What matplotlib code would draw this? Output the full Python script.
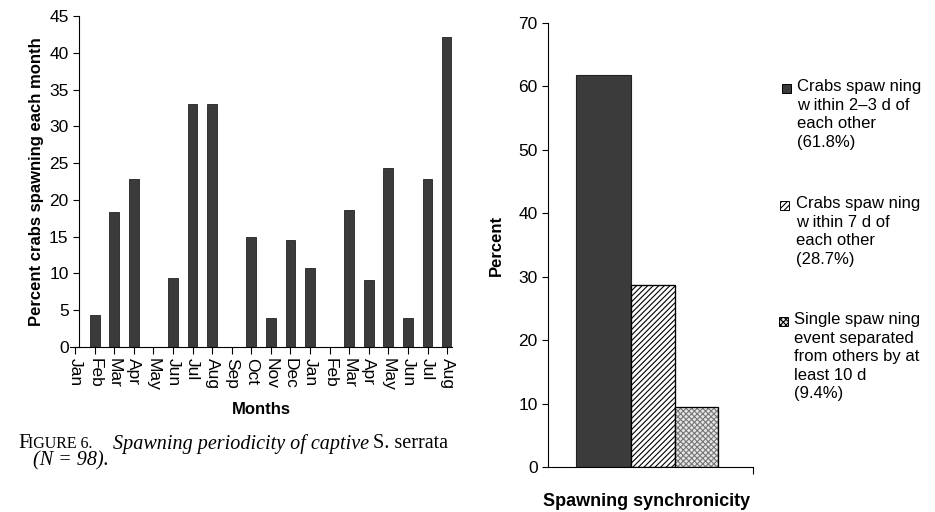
import matplotlib.pyplot as plt
from matplotlib.patches import Rectangle

plt.rcParams['font.family'] = ['Liberation Sans', 'DejaVu Sans']
plt.rcParams['hatch.linewidth'] = 0.8

# monthly spawning (percent of crabs), Jan of year 1 .. Aug of year 2
months = ['Jan', 'Feb', 'Mar', 'Apr', 'May', 'Jun', 'Jul', 'Aug', 'Sep', 'Oct',
          'Nov', 'Dec', 'Jan', 'Feb', 'Mar', 'Apr', 'May', 'Jun', 'Jul', 'Aug']
spawn_pct = [0, 4.3, 18.3, 22.9, 0, 9.4, 33.0, 33.0, 0, 15.0,
             4.0, 14.6, 10.8, 0, 18.6, 9.1, 24.3, 4.0, 22.9, 42.2]

# synchronicity
sync_labels = ['Crabs spaw ning\nw ithin 2\u20133 d of\neach other\n(61.8%)',
               'Crabs spaw ning\nw ithin 7 d of\neach other\n(28.7%)',
               'Single spaw ning\nevent separated\nfrom others by at\nleast 10 d\n(9.4%)']
sync_pct = [61.8, 28.7, 9.4]

W, H = 935, 512
fig = plt.figure(figsize=(W / 100, H / 100), dpi=100)

# ---- left chart ----
ax1 = fig.add_axes([70 / W, (H - 347) / H, (452 - 70) / W, (347 - 16) / H])
x = list(range(len(months)))
ax1.bar(x, spawn_pct, width=0.5, color='#3b3b3b', edgecolor='#222222', linewidth=0.6)
ax1.set_xlim(-0.26, 19.25)
ax1.set_ylim(0, 45)
ax1.set_yticks(range(0, 46, 5))
ax1.set_xticks(x)
ax1.set_xticklabels(months, rotation=-90, fontsize=12.5)
ax1.tick_params(axis='y', labelsize=12.5, length=4, width=0.8)
ax1.tick_params(axis='x', length=5, width=0.8, pad=3)
ax1.spines['top'].set_visible(False)
ax1.spines['right'].set_visible(False)
ax1.spines['left'].set_position(('data', 0.2))
ax1.set_ylabel('Percent crabs spawning each month', fontsize=12, fontweight='bold', labelpad=4)
ax1.set_xlabel('Months', fontsize=12, fontweight='bold', labelpad=8)

# caption
cap_y = 1 - 444 / H
fig.text(18 / W, cap_y, 'F', family='Liberation Serif', fontsize=15, va='center')
fig.text(28 / W, cap_y, 'IGURE 6.', family='Liberation Serif', fontsize=11.5, va='center')
fig.text(113 / W, cap_y, 'Spawning periodicity of captive', family='Liberation Serif',
         style='italic', fontsize=14.5, va='center')
fig.text(373 / W, cap_y, 'S. serrata', family='Liberation Serif', fontsize=14.5, va='center')
fig.text(33 / W, 1 - 461 / H, '(N = 98).', family='Liberation Serif', style='italic',
         fontsize=14.5, va='center')

# ---- right chart ----
ax2 = fig.add_axes([548 / W, (H - 467) / H, (753 - 548) / W, (467 - 23) / H])
lefts = [28, 83, 127]
widths = [55, 44, 43]
faces = ['#3b3b3b', 'white', '#e6e6e6']
hatches = [None, '//////', 'xxxxxx']
hcolors = ['#222222', 'black', '#777777']
for i in range(3):
    ax2.bar(lefts[i], sync_pct[i], width=widths[i], align='edge',
            color=faces[i], edgecolor=hcolors[i], hatch=hatches[i], linewidth=0.8)
    if i > 0:
        ax2.bar(lefts[i], sync_pct[i], width=widths[i], align='edge',
                fill=False, edgecolor='black', linewidth=0.9)
ax2.set_xlim(0, 205)
ax2.set_ylim(0, 70)
ax2.set_yticks(range(0, 71, 10))
ax2.set_xticks([205])
ax2.set_xticklabels([''])
ax2.tick_params(axis='y', labelsize=12.5, length=4, width=0.8)
ax2.tick_params(axis='x', length=5, width=0.8)
ax2.spines['top'].set_visible(False)
ax2.spines['right'].set_visible(False)
ax2.set_ylabel('Percent', fontsize=12, fontweight='bold', labelpad=10)
fig.text(647 / W, 1 - 502 / H, 'Spawning synchronicity', fontsize=13, fontweight='bold',
         ha='center', va='center')

# legend drawn by hand so the swatch sits beside the first line
leg_y = [88, 205, 321]
leg_sx = [782, 780, 779]
leg_tx = [797, 796, 794]
for i in range(3):
    fig.patches.append(Rectangle((leg_sx[i] / W, (H - leg_y[i] - 5) / H), 9 / W, 9 / H,
                                 transform=fig.transFigure, facecolor=faces[i],
                                 edgecolor='black', hatch=hatches[i], linewidth=0.7))
    fig.text(leg_tx[i] / W, (H - leg_y[i] + 9) / H, sync_labels[i], fontsize=12,
             va='top', ha='left', linespacing=1.3)

fig.savefig('out.png', dpi=100)
